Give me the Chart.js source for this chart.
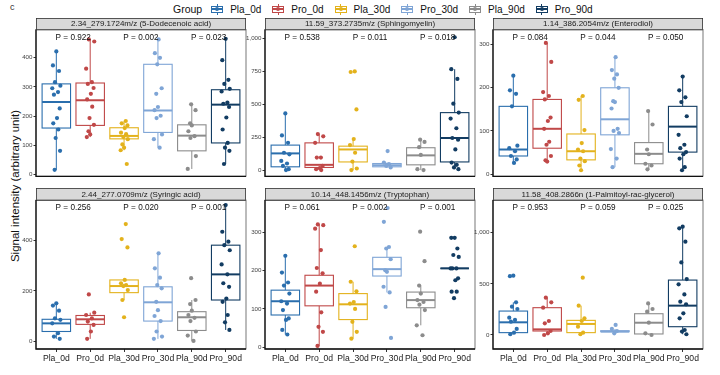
<!DOCTYPE html>
<html><head><meta charset="utf-8">
<script src="https://cdn.jsdelivr.net/npm/chart.js@4.4.1/dist/chart.umd.min.js"></script>
<style>
html,body{margin:0;padding:0;background:#fff;}
body{width:720px;height:375px;position:relative;overflow:hidden;font-family:"Liberation Sans",Arial,sans-serif;}
canvas.cv{position:absolute;}
#tag{position:absolute;left:10px;top:2px;font-size:9px;color:#333;}
#ylab{position:absolute;left:15px;top:186px;transform:translate(-50%,-50%) rotate(-90deg);font-size:11.5px;white-space:nowrap;color:#111;}
#legend{position:absolute;left:173px;top:2px;height:14px;display:flex;align-items:center;font-size:10px;color:#111;}
#legend .gt{font-size:10.5px;margin-right:8px;}
#legend .it{display:flex;align-items:center;margin-right:10px;}
#legend .key{position:relative;width:14px;height:11px;margin-right:6px;}
#legend .key .bx{position:absolute;left:1px;top:2px;width:10px;height:5px;border:1px solid;background:#fff;}
#legend .key .md{position:absolute;left:1px;top:4.5px;width:12px;height:1.5px;}
#legend .key .wu{position:absolute;left:6.5px;top:0;width:1px;height:2px;}
#legend .key .wd{position:absolute;left:6.5px;top:9px;width:1px;height:2px;}
#legend .key .dt{position:absolute;left:5px;top:3.5px;width:4px;height:4px;border-radius:50%;}
</style>
</head><body>
<div id="tag">c</div>
<div id="legend"><span class="gt">Group</span></div>
<div id="ylab">Signal intensity (arbitrary unit)</div>
<script>
// ---------- data ----------
const CATS = ['Pla_0d','Pro_0d','Pla_30d','Pro_30d','Pla_90d','Pro_90d'];
const COLORS = ['#2A6EAD','#C04848','#E3B21C','#7FA5D6','#8C8C8C','#123C62'];

// Panel A
const A_TITLE = '2.34_279.1724m/z (5-Dodecenoic acid)';
const A_P = ['P = 0.922','P = 0.002','P = 0.023'];
const A_TICKS = [0,100,200,300,400];
const A_BOX = [[16,159,248,310,421],[128,168,254,313,462],[83,122,132,160,183],[92,144,219,377,462],[19,81,133,170,240],[36,108,239,290,464]];
const A_PTS = [
  [421,373,354,316,304,295,282,273,226,193,175,154,125,81,16],
  [462,455,362,316,310,296,276,257,232,193,170,148,137,128],
  [183,175,168,159,143,138,128,121,103,92,83,36],
  [462,415,399,377,295,276,231,220,201,193,137,121,92],
  [240,220,175,168,148,131,125,63,19],
  [464,391,324,310,293,284,246,242,231,195,154,108,92,81,36]
];
// Panel B
const B_TITLE = '11.59_373.2735m/z (Sphingomyelin)';
const B_P = ['P = 0.538','P = 0.011','P = 0.018'];
const B_TICKS = [0,250,500,750,1000];
const B_BOX = [[0,25,127,190,431],[0,20,40,207,274],[0,62,157,182,236],[20,25,37,50,57],[0,40,112,170,231],[7,62,244,437,767]];
const B_PTS = [
  [431,264,207,132,120,70,50,32,7,0],
  [274,257,207,95,95,32,15,7,0],
  [750,746,461,236,190,132,65,12,0],
  [145,57,45,32,20],
  [231,214,174,115,7,0],
  [1010,767,693,505,437,392,318,244,231,157,57,40,20,7]
];
// Panel C
const C_TITLE = '1.14_386.2054m/z (Enterodiol)';
const C_P = ['P = 0.084','P = 0.044','P = 0.050'];
const C_TICKS = [0,100,200,300];
const C_BOX = [[26,42,57,157,228],[29,60,105,173,304],[9,33,53,93,181],[16,91,127,200,271],[11,24,47,73,146],[9,51,110,157,226]];
const C_PTS = [
  [228,194,186,157,66,60,53,42,34,26],
  [304,260,190,181,173,131,123,105,75,68,42,32,29],
  [181,172,102,72,57,53,36,30,20,9],
  [271,241,231,221,200,169,167,152,105,100,95,58,36,16],
  [146,115,57,46,24,20,11],
  [226,194,178,167,134,91,68,60,51,46,36,16,9]
];
// Panel D
const D_TITLE = '2.44_277.0709m/z (Syringic acid)';
const D_P = ['P = 0.256','P = 0.020','P = 0.001'];
const D_TICKS = [0,200,400];
const D_BOX = [[11,40,72,88,151],[11,68,88,103,114],[164,193,219,243,243],[11,81,155,216,348],[3,44,96,118,164],[46,164,265,380,538]];
const D_PTS = [
  [151,142,122,92,86,72,33,20,11],
  [186,114,105,92,79,66,40,11],
  [463,404,371,243,230,223,219,203,164,96],
  [348,289,252,223,210,157,124,101,81,40,20,11],
  [250,164,148,122,105,94,81,40,24,3],
  [538,433,394,380,360,304,265,230,216,170,157,105,76,46]
];
// Panel E
const E_TITLE = '10.14_448.1456m/z (Tryptophan)';
const E_P = ['P = 0.061','P = 0.002','P = 0.001'];
const E_TICKS = [0,100,200,300];
const E_BOX = [[33,84,120,149,239],[3,108,161,188,321],[22,72,112,140,171],[143,186,204,235,262],[57,103,123,144,161],[206,206,206,206,206]];
const E_PTS = [
  [239,195,169,161,140,120,114,97,75,71,45,33],
  [321,319,310,254,207,193,166,145,91,53,40,3],
  [264,171,146,118,114,100,66,40,22],
  [364,328,262,258,230,201,197,158,143,105,24],
  [302,225,161,140,123,118,111,97,57,31],
  [286,286,258,241,236,206,206,206,180,175,145,145,128]
];
// Panel F
const F_TITLE = '11.58_408.2866n (1-Palmitoyl-rac-glycerol)';
const F_P = ['P = 0.953','P = 0.059','P = 0.025'];
const F_TICKS = [0,500,1000];
const F_BOX = [[7,23,124,234,319],[0,39,55,267,365],[7,23,108,143,287],[16,33,33,42,59],[0,10,120,208,309],[7,81,287,537,1059]];
const F_PTS = [
  [580,575,319,277,254,169,147,130,59,23,7],
  [365,319,267,137,114,39,16,0],
  [560,287,163,137,81,23,7],
  [98,59,39,16],
  [309,254,228,120,16,0],
  [1059,1043,912,710,547,495,397,326,300,212,163,49,33,7]
];

// ---------- styling / layout ----------
const JITTER = [0.00,-0.10,0.08,-0.04,0.12,-0.12,0.05,-0.07,0.10,0.02,-0.09,0.06,-0.02,0.11,-0.05];
const FONT = '"Liberation Sans", Arial, sans-serif';

const PANELS = [
  {title:A_TITLE,p:A_P,ticks:A_TICKS,box:A_BOX,pts:A_PTS,min:-6,max:496,left:36,row:0},
  {title:B_TITLE,p:B_P,ticks:B_TICKS,box:B_BOX,pts:B_PTS,min:-47,max:1069,left:265,row:0},
  {title:C_TITLE,p:C_P,ticks:C_TICKS,box:C_BOX,pts:C_PTS,min:-5,max:335,left:493,row:0},
  {title:D_TITLE,p:D_P,ticks:D_TICKS,box:D_BOX,pts:D_PTS,min:-29,max:558,left:36,row:1},
  {title:E_TITLE,p:E_P,ticks:E_TICKS,box:E_BOX,pts:E_PTS,min:-5,max:385,left:265,row:1},
  {title:F_TITLE,p:F_P,ticks:F_TICKS,box:F_BOX,pts:F_PTS,min:-137,max:1320,left:493,row:1}
];

// legend
const leg = document.getElementById('legend');
CATS.forEach((c,i)=>{
  const it = document.createElement('span'); it.className='it';
  const col = COLORS[i];
  it.innerHTML = '<span class="key"><span class="wu" style="background:'+col+'"></span><span class="bx" style="border-color:'+col+'"></span><span class="md" style="background:'+col+'"></span><span class="wd" style="background:'+col+'"></span><span class="dt" style="background:'+col+'"></span></span><span>'+c+'</span>';
  leg.appendChild(it);
});

const boxPlugin = {
  id:'boxes',
  beforeDatasetsDraw(chart){
    const o = chart.options.plugins.boxes; const ctx = chart.ctx;
    const xs = chart.scales.x, ys = chart.scales.y, ca = chart.chartArea;
    // strip
    ctx.save();
    ctx.fillStyle = '#D9D9D9'; ctx.strokeStyle = '#333'; ctx.lineWidth = 0.8;
    ctx.fillRect(ca.left, ca.top - o.strip, ca.right - ca.left, o.strip);
    ctx.strokeRect(ca.left + 0.4, ca.top - o.strip + 0.4, ca.right - ca.left - 0.8, o.strip);
    ctx.fillStyle = '#1a1a1a'; ctx.font = '8px ' + FONT; ctx.textAlign = 'center'; ctx.textBaseline = 'middle';
    ctx.fillText(o.title, (ca.left + ca.right) / 2, ca.top - o.strip / 2 + 0.5);
    ctx.restore();
    // boxes
    const hw = (xs.getPixelForValue(0.42) - xs.getPixelForValue(0));
    o.box.forEach((b,i)=>{
      const x = xs.getPixelForValue(i);
      const [lo,q1,md,q3,hi] = b.map(v=>ys.getPixelForValue(v));
      ctx.save();
      ctx.strokeStyle = COLORS[i]; ctx.lineWidth = 1;
      ctx.beginPath(); ctx.moveTo(x, lo); ctx.lineTo(x, q1); ctx.moveTo(x, q3); ctx.lineTo(x, hi); ctx.stroke();
      ctx.fillStyle = '#fff';
      ctx.fillRect(x - hw, q3, 2*hw, q1 - q3);
      ctx.lineWidth = 1.1;
      ctx.strokeRect(x - hw, q3, 2*hw, q1 - q3);
      ctx.lineWidth = 2;
      ctx.beginPath(); ctx.moveTo(x - hw, md); ctx.lineTo(x + hw, md); ctx.stroke();
      ctx.restore();
    });
  },
  afterDatasetsDraw(chart){
    const o = chart.options.plugins.boxes; const ctx = chart.ctx;
    const xs = chart.scales.x, ca = chart.chartArea;
    ctx.save();
    ctx.fillStyle = '#111'; ctx.font = '8.2px ' + FONT; ctx.textAlign = 'center'; ctx.textBaseline = 'middle';
    o.p.forEach((t,k)=>{
      const x = (xs.getPixelForValue(2*k) + xs.getPixelForValue(2*k+1)) / 2;
      ctx.fillText(t, x, ca.top + 8);
    });
    // panel border
    ctx.strokeStyle = '#555'; ctx.lineWidth = 0.8;
    ctx.strokeRect(ca.left, ca.top, ca.right - ca.left, ca.bottom - ca.top);
    ctx.strokeStyle = '#111'; ctx.lineWidth = 1.3;
    ctx.beginPath(); ctx.moveTo(ca.left, ca.top); ctx.lineTo(ca.left, ca.bottom); ctx.lineTo(ca.right, ca.bottom); ctx.stroke();
    ctx.restore();
  }
};

PANELS.forEach((P,pi)=>{
  const W = 210, YW = 34;
  const cv = document.createElement('canvas');
  cv.className = 'cv';
  const top = P.row === 0 ? 18 : 188;
  const h = P.row === 0 ? 163 : 187;
  const w = W + YW + 3;
  cv.width = w; cv.height = h;
  cv.style.left = (P.left - YW) + 'px'; cv.style.top = top + 'px';
  cv.style.width = w + 'px'; cv.style.height = h + 'px';
  document.body.appendChild(cv);
  const strip = P.row === 0 ? 11.5 : 12;
  const datasets = P.pts.map((arr,i)=>({
    data: arr.map((v,j)=>({x: i + JITTER[(j + i*3) % JITTER.length], y: v})),
    backgroundColor: COLORS[i], borderWidth: 0, pointRadius: 2.1, pointHoverRadius: 2.1
  }));
  const bottomRow = P.row === 1;
  new Chart(cv, {
    type: 'scatter',
    data: {datasets},
    options: {
      responsive: false, animation: false, devicePixelRatio: 1,
      events: [],
      layout: {padding: {top: strip, right: 3, bottom: bottomRow ? 0 : 2, left: 0}},
      plugins: {legend: {display: false}, tooltip: {enabled: false},
        boxes: {title: P.title, p: P.p, box: P.box, strip: strip}},
      scales: {
        x: {
          type: 'linear', min: -0.6, max: 5.6, display: bottomRow,
          afterBuildTicks: s => { s.ticks = CATS.map((_,i)=>({value:i})); },
          afterFit: s => { s.height = bottomRow ? 26 : 0; },
          ticks: {callback: v => CATS[v], font: {size: 8.6, family: FONT}, color: '#1a1a1a', padding: 1.5, maxRotation: 0, autoSkip: false},
          grid: {display: true, drawOnChartArea: false, drawTicks: true, tickLength: 3, color: '#333'},
          border: {display: false}
        },
        y: {
          type: 'linear', min: P.min, max: P.max,
          afterBuildTicks: s => { s.ticks = P.ticks.map(v=>({value:v})); },
          afterFit: s => { s.width = YW; },
          ticks: {font: {size: 6.2, family: FONT}, color: '#444', padding: 1},
          grid: {display: true, drawOnChartArea: false, drawTicks: true, tickLength: 2.5, color: '#333'},
          border: {display: false}
        }
      }
    },
    plugins: [boxPlugin]
  });
});
</script>
</body></html>
